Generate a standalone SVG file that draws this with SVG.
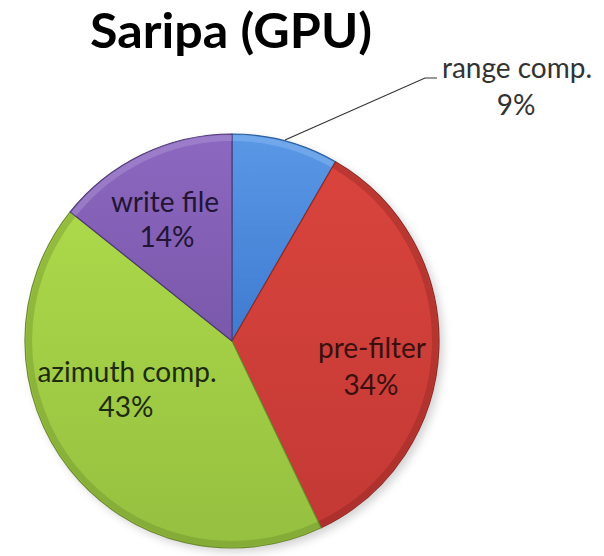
<svg xmlns="http://www.w3.org/2000/svg" width="604" height="556" viewBox="0 0 604 556">
  <defs>
    <style>
      .title { font-family: Lato, "Noto Sans", "Liberation Sans", sans-serif; font-weight: 700; font-size: 48px; fill: #000; }
      .lbl { font-family: Lato, "Noto Sans", "Liberation Sans", sans-serif; font-size: 28px; text-anchor: middle; }
      .slice { stroke-width: 1.2; stroke-linejoin: round; }
      .rim { fill: none; stroke-width: 6; opacity: 0.3; }
    </style>
    <linearGradient id="gBlue" x1="0" y1="0" x2="0" y2="1">
      <stop offset="0" stop-color="#5a98e6"/>
      <stop offset="1" stop-color="#3f7ad0"/>
    </linearGradient>
    <linearGradient id="gRed" x1="0" y1="0" x2="0" y2="1">
      <stop offset="0" stop-color="#d9443d"/>
      <stop offset="1" stop-color="#c43935"/>
    </linearGradient>
    <linearGradient id="gGreen" x1="0" y1="0" x2="0" y2="1">
      <stop offset="0" stop-color="#acd84a"/>
      <stop offset="1" stop-color="#95c040"/>
    </linearGradient>
    <linearGradient id="gPurple" x1="0" y1="0" x2="0" y2="1">
      <stop offset="0" stop-color="#8c68c0"/>
      <stop offset="1" stop-color="#7a58aa"/>
    </linearGradient>
    <filter id="shadow" x="-20%" y="-20%" width="140%" height="140%">
      <feGaussianBlur stdDeviation="5"/>
    </filter>
  </defs>

  <rect width="604" height="556" fill="#ffffff"/>

  <text class="title" x="90" y="48" textLength="282" lengthAdjust="spacingAndGlyphs">Saripa (GPU)</text>

  <!-- soft drop shadow under the pie -->
  <circle cx="236" cy="345" r="207" fill="#000" opacity="0.18" filter="url(#shadow)"/>

  <g id="slice-range-comp">
    <path class="slice" d="M232,341 L232,134 A207,207 0 0 1 335.5,161.7 Z" fill="url(#gBlue)" stroke="#2c5f9e"/>
    <path class="rim" d="M232,138 A203,203 0 0 1 333.5,165.2" stroke="#a8cdf7"/>
  </g>

  <g id="slice-pre-filter">
    <path class="slice" d="M232,341 L335.5,161.7 A207,207 0 0 1 321.1,527.8 Z" fill="url(#gRed)" stroke="#8e2a27"/>
    <path class="rim" d="M333.5,165.2 A203,203 0 0 1 319.4,524.2" stroke="#7a1e1c"/>
    <text class="lbl" x="372" y="358" fill="#3a0f0e">pre-filter</text>
    <text class="lbl" x="371" y="395" fill="#3a0f0e">34%</text>
  </g>

  <g id="slice-azimuth-comp">
    <path class="slice" d="M232,341 L321.1,527.8 A207,207 0 0 1 70.2,211.8 Z" fill="url(#gGreen)" stroke="#6d8c2e"/>
    <path class="rim" d="M319.4,524.2 A203,203 0 0 1 73.4,214.3" stroke="#5f7d24"/>
    <text class="lbl" x="127" y="382" fill="#1e2a0c">azimuth comp.</text>
    <text class="lbl" x="126" y="417" fill="#1e2a0c">43%</text>
  </g>

  <g id="slice-write-file">
    <path class="slice" d="M232,341 L70.2,211.8 A207,207 0 0 1 232,134 Z" fill="url(#gPurple)" stroke="#4f3a75"/>
    <path class="rim" d="M73.4,214.3 A203,203 0 0 1 232,138" stroke="#c3aee6"/>
    <text class="lbl" x="165" y="212" fill="#221434">write file</text>
    <text class="lbl" x="167" y="247" fill="#221434">14%</text>
  </g>

  <g id="connectors">
    <polyline points="285,140 425,78 437,78" fill="none" stroke="#333" stroke-width="1.2"/>
  </g>

  <g id="label-range-comp">
    <text class="lbl" x="517" y="78" fill="#333">range comp.</text>
    <text class="lbl" x="516" y="115" fill="#333">9%</text>
  </g>
</svg>
